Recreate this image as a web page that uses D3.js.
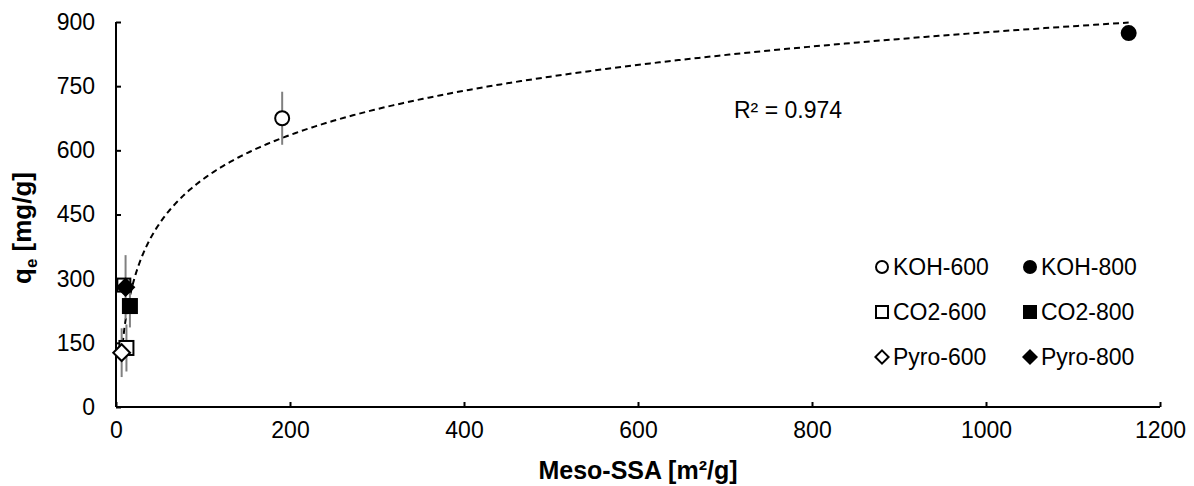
<!DOCTYPE html>
<html><head><meta charset="utf-8">
<script src="https://cdn.jsdelivr.net/npm/d3@7"></script>
<style>
body{margin:0;background:#fff;}
text{font-family:"Liberation Sans",Arial,sans-serif;}
</style></head>
<body><svg id="c" width="1194" height="486"></svg>
<script>
// ---- data ----
const seriesNames = ["KOH-600","KOH-800","CO2-600","CO2-800","Pyro-600","Pyro-800"];
const seriesShape = ["circle","circle","square","square","diamond","diamond"];
const seriesFilled = [false,true,false,true,false,true];
const mesoSSA = [191, 1164, 12, 16, 6.5, 11];
const qe      = [675, 874, 138, 236, 127, 280];
const qeErr   = [62, 0, 55, 50, 57, 75];
// partially hidden extra open square behind Pyro-800
const extraX = [9];
const extraY = [285];
const xTicks = [0,200,400,600,800,1000,1200];
const yTicks = [0,150,300,450,600,750,900];
const r2Label = "R² = 0.974";

const svg = d3.select("#c");
const L=116, R=1160, T=22, B=407;
const x = d3.scaleLinear().domain([0,1200]).range([L,R]);
const y = d3.scaleLinear().domain([0,900]).range([B,T]);

// axes
const xAxis = d3.axisBottom(x).tickValues(xTicks).tickFormat(d3.format("d")).tickSizeInner(-5).tickSizeOuter(0).tickPadding(15);
const yAxis = d3.axisLeft(y).tickValues(yTicks).tickFormat(d3.format("d")).tickSizeInner(-5).tickSizeOuter(0).tickPadding(21);
const gx = svg.append("g").attr("transform",`translate(0,${B})`).call(xAxis);
const gy = svg.append("g").attr("transform",`translate(${L},0)`).call(yAxis);
[gx,gy].forEach(g=>{
  g.select(".domain").attr("stroke","#000").attr("stroke-width",2);
  g.selectAll(".tick line").attr("stroke","#000").attr("stroke-width",2);
  g.selectAll(".tick text").attr("font-size",23).attr("fill","#000").attr("font-family","Liberation Sans, Arial");
});
gx.select(".domain").attr("d",`M${L},0H${R}`);
gy.select(".domain").attr("d",`M0,${B}V${T}`);

// axis titles
svg.append("text").attr("x",(L+R)/2).attr("y",479).attr("text-anchor","middle")
  .attr("font-size",25).attr("font-weight","bold").text("Meso-SSA [m²/g]");
const yt = svg.append("text").attr("transform","translate(31,228) rotate(-90)").attr("text-anchor","middle")
  .attr("font-size",26).attr("font-weight","bold");
yt.append("tspan").text("q");
yt.append("tspan").attr("font-size",17).attr("dy",6).text("e");
yt.append("tspan").attr("dy",-6).text(" [mg/g]");

// log trendline fitted to the data (least squares on ln x)
const lx = mesoSSA.map(Math.log);
const mx = d3.mean(lx), my = d3.mean(qe);
const a = d3.sum(lx.map((v,i)=>(v-mx)*(qe[i]-my))) / d3.sum(lx.map(v=>(v-mx)*(v-mx)));
const b = my - a*mx;
const xmin = d3.min(mesoSSA), xmax = d3.max(mesoSSA);
const trend = d3.range(0,301).map(i=>{const xv = xmin*Math.pow(xmax/xmin,i/300); return [xv, a*Math.log(xv)+b];});
svg.append("path").datum(trend)
  .attr("d", d3.line().x(d=>x(d[0])).y(d=>y(d[1])))
  .attr("fill","none").attr("stroke","#000").attr("stroke-width",2).attr("stroke-dasharray","6,4");

// error bars
const idx = d3.range(seriesNames.length);
svg.append("g").selectAll("line").data(idx.filter(i=>qeErr[i]>0)).join("line")
  .attr("x1",i=>x(mesoSSA[i])).attr("x2",i=>x(mesoSSA[i]))
  .attr("y1",i=>y(qe[i]-qeErr[i])).attr("y2",i=>y(qe[i]+qeErr[i]))
  .attr("stroke","#808080").attr("stroke-width",2);

function marker(g, shape, filled, cx, cy, s){
  let el;
  if(shape==="circle") el = g.append("circle").attr("cx",cx).attr("cy",cy).attr("r",s*0.5);
  else if(shape==="square") el = g.append("rect").attr("x",cx-s*0.5).attr("y",cy-s*0.5).attr("width",s).attr("height",s);
  else el = g.append("path").attr("d",`M${cx},${cy-s*0.6}L${cx+s*0.6},${cy}L${cx},${cy+s*0.6}L${cx-s*0.6},${cy}Z`);
  el.attr("fill",filled?"#000":"#fff").attr("stroke","#000").attr("stroke-width",2);
}

const gm = svg.append("g");
extraX.forEach((xv,i)=>marker(gm,"square",false,x(xv),y(extraY[i]),13));
[0,2,4,1,3,5].forEach(i=>marker(gm, seriesShape[i], seriesFilled[i], x(mesoSSA[i]), y(qe[i]), 14));

// R2 label
svg.append("text").attr("x",734).attr("y",118).attr("font-size",23).text(r2Label);

// legend
const lg = svg.append("g");
const colX=[882,1030], rowY=[267,312,357];
idx.forEach(i=>{
  const c=i%2, r=Math.floor(i/2);
  marker(lg, seriesShape[i], seriesFilled[i], colX[c], rowY[r], seriesShape[i]==="diamond"?11:12);
  lg.append("text").attr("x",colX[c]+11).attr("y",rowY[r]+8).attr("font-size",23).text(seriesNames[i]);
});
</script></body></html>
